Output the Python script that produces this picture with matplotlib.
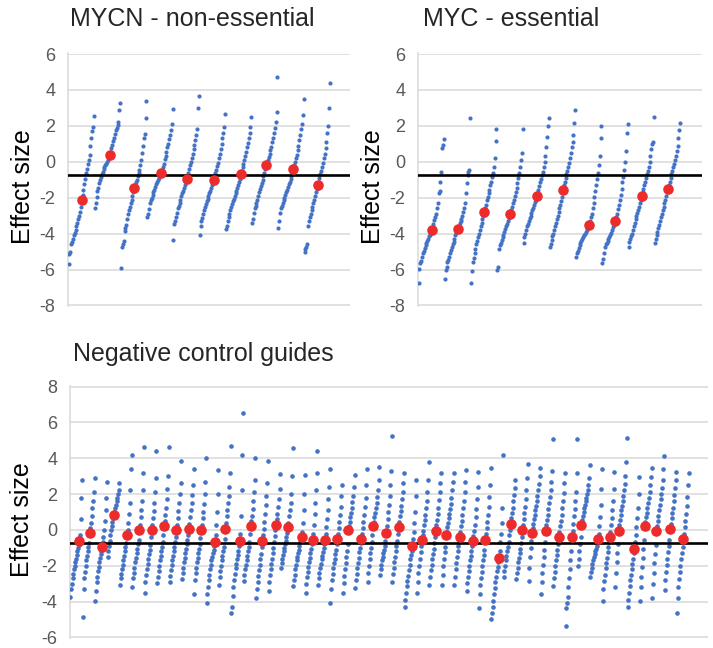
import numpy as np
import matplotlib.pyplot as plt

plt.rcParams['font.family'] = ['Liberation Sans', 'DejaVu Sans']
plt.rcParams['axes.unicode_minus'] = False

# effect size of every cell line, one list per guide (sorted inside each panel)
mycn_guides = [
    [-5.7, -5.15, -5.0, -4.55, -4.45, -4.3, -4.1, -3.95, -3.8, -3.6, -3.4, -3.2, -3.0, -2.8, -2.5,
     -2.15, -1.85, -1.55, -1.25, -0.95, -0.65, -0.4, -0.15, 0.1, 0.4, 0.9, 1.3, 1.7, 1.95, 2.55],
    [-2.6, -2.3, -1.95, -1.6, -1.45, -1.2, -1.0, -0.85, -0.7, -0.55, -0.42, -0.3, -0.2, -0.1, 0.0,
     0.1, 0.25, 0.39, 0.55, 0.75, 0.95, 1.15, 1.35, 1.55, 1.75, 1.9, 2.05, 2.2, 2.9, 3.25],
    [-5.9, -4.75, -4.6, -4.4, -3.85, -3.7, -3.5, -3.2, -2.9, -2.7, -2.5, -2.3, -2.1, -1.9, -1.7,
     -1.46, -1.3, -1.15, -1.0, -0.8, -0.6, -0.45, -0.2, 0.1, 0.5, 0.9, 1.3, 1.55, 2.45, 3.4],
    [-3.1, -2.9, -2.65, -2.3, -2.15, -2.0, -1.85, -1.7, -1.55, -1.4, -1.25, -1.1, -1.0, -0.9, -0.8,
     -0.7, -0.61, -0.5, -0.3, -0.1, 0.15, 0.35, 0.55, 0.8, 1.0, 1.25, 1.5, 1.75, 2.1, 2.95],
    [-4.35, -3.45, -3.3, -3.1, -2.85, -2.6, -2.45, -2.3, -2.1, -1.9, -1.75, -1.6, -1.45, -1.3, -1.1,
     -0.94, -0.8, -0.6, -0.4, -0.2, 0.0, 0.2, 0.45, 0.7, 0.95, 1.2, 1.5, 1.8, 3.0, 3.65],
    [-4.1, -3.55, -3.3, -3.15, -2.9, -2.7, -2.5, -2.35, -2.2, -2.05, -1.9, -1.75, -1.6, -1.45, -1.3,
     -1.15, -1.0, -0.85, -0.65, -0.45, -0.25, -0.05, 0.2, 0.45, 0.7, 1.0, 1.3, 1.6, 1.95, 2.65],
    [-3.75, -3.6, -3.3, -3.1, -2.9, -2.7, -2.5, -2.35, -2.2, -2.05, -1.9, -1.75, -1.6, -1.45, -1.3,
     -1.15, -0.95, -0.7, -0.5, -0.3, -0.1, 0.1, 0.3, 0.55, 0.8, 1.05, 1.3, 1.6, 1.95, 2.5],
    [-3.4, -3.2, -2.85, -2.6, -2.45, -2.3, -2.1, -1.9, -1.7, -1.5, -1.35, -1.2, -1.0, -0.8, -0.6,
     -0.4, -0.2, -0.05, 0.1, 0.25, 0.45, 0.65, 0.85, 1.1, 1.35, 1.6, 1.9, 2.2, 2.75, 4.7],
    [-3.7, -3.3, -2.85, -2.6, -2.45, -2.3, -2.15, -2.0, -1.85, -1.7, -1.55, -1.4, -1.25, -1.1, -0.95,
     -0.8, -0.6, -0.39, -0.2, 0.0, 0.2, 0.4, 0.65, 0.9, 1.2, 1.5, 1.8, 2.1, 2.6, 3.5],
    [-5.0, -4.85, -4.75, -4.6, -3.55, -3.3, -3.1, -2.9, -2.7, -2.5, -2.3, -2.1, -1.9, -1.7, -1.5,
     -1.31, -1.1, -0.9, -0.7, -0.5, -0.3, -0.05, 0.2, 0.45, 0.75, 1.1, 1.6, 2.0, 3.0, 4.4],
]
mycn_red = [-2.15, 0.39, -1.46, -0.61, -0.94, -1.0, -0.7, -0.2, -0.39, -1.31]

myc_guides = [
    [-6.75, -5.95, -5.65, -5.5, -5.3, -5.1, -4.95, -4.8, -4.65, -4.5, -4.4, -4.3, -4.15, -4.05, -3.95,
     -3.81, -3.65, -3.45, -3.25, -3.05, -2.9, -2.6, -2.3, -1.75, -1.6, -1.1, -0.55, 0.75, 0.95, 1.25],
    [-6.55, -6.05, -5.85, -5.6, -5.45, -5.3, -5.1, -4.9, -4.75, -4.6, -4.45, -4.3, -4.1, -3.95, -3.85,
     -3.72, -3.55, -3.4, -3.3, -3.2, -3.0, -2.8, -2.55, -2.3, -1.75, -1.2, -0.75, -0.55, -0.45, 2.42],
    [-6.75, -6.1, -5.6, -5.35, -5.1, -4.85, -4.6, -4.4, -4.2, -4.0, -3.8, -3.6, -3.4, -3.2, -3.0,
     -2.8, -2.6, -2.4, -2.15, -1.95, -1.75, -1.55, -1.3, -1.1, -0.85, -0.6, -0.3, 0.2, 1.15, 1.8],
    [-6.05, -5.85, -4.85, -4.65, -4.5, -4.35, -4.2, -4.05, -3.9, -3.75, -3.6, -3.45, -3.3, -3.15, -3.0,
     -2.88, -2.7, -2.5, -2.3, -2.1, -1.9, -1.7, -1.45, -1.2, -0.9, -0.6, -0.3, 0.1, 0.5, 1.85],
    [-4.5, -4.2, -4.0, -3.8, -3.6, -3.45, -3.3, -3.15, -3.0, -2.85, -2.7, -2.55, -2.4, -2.25, -2.1,
     -1.92, -1.75, -1.55, -1.35, -1.15, -0.95, -0.75, -0.55, -0.3, 0.0, 0.3, 0.8, 1.4, 2.0, 2.42],
    [-4.75, -4.55, -4.35, -4.15, -4.0, -3.8, -3.6, -3.4, -3.2, -3.0, -2.8, -2.6, -2.4, -2.2, -1.95,
     -1.56, -1.3, -1.1, -0.9, -0.7, -0.5, -0.3, -0.05, 0.2, 0.5, 0.85, 1.1, 1.5, 2.15, 2.88],
    [-5.3, -5.1, -4.95, -4.8, -4.65, -4.5, -4.4, -4.3, -4.2, -4.1, -4.0, -3.9, -3.8, -3.7, -3.6,
     -3.5, -3.3, -3.1, -2.9, -2.6, -2.3, -1.95, -1.6, -1.3, -0.95, -0.6, -0.2, 0.3, 1.3, 2.0],
    [-5.65, -5.4, -5.1, -4.75, -4.6, -4.5, -4.4, -4.3, -4.2, -4.1, -3.95, -3.8, -3.65, -3.5, -3.4,
     -3.3, -3.1, -2.9, -2.65, -2.4, -2.15, -1.85, -1.5, -1.15, -0.85, -0.45, 0.0, 0.6, 1.6, 2.1],
    [-4.75, -4.45, -4.3, -4.15, -4.0, -3.8, -3.6, -3.4, -3.2, -3.0, -2.85, -2.7, -2.5, -2.3, -2.1,
     -1.9, -1.7, -1.5, -1.3, -1.1, -0.9, -0.7, -0.5, -0.3, 0.0, 0.3, 0.7, 1.0, 1.1, 2.5],
    [-4.5, -4.3, -4.1, -3.9, -3.7, -3.5, -3.3, -3.1, -2.9, -2.7, -2.5, -2.3, -2.1, -1.9, -1.7,
     -1.5, -1.3, -1.1, -0.9, -0.7, -0.5, -0.3, -0.1, 0.1, 0.35, 0.6, 0.9, 1.3, 1.75, 2.15],
]
myc_red = [-3.81, -3.72, -2.8, -2.88, -1.92, -1.56, -3.5, -3.3, -1.9, -1.5]

control_guides = [
    [-3.75, -3.3, -3.0, -2.7, -2.45, -2.2, -2.0, -1.8, -1.6, -1.4, -1.2, -1.0, -0.85, -0.63, -0.3, 0.6, 1.8, 2.8],
    [-4.85, -3.3, -2.7, -2.35, -2.0, -1.7, -1.45, -1.2, -0.95, -0.75, -0.17, 0.1, 0.4, 0.8, 1.2, 1.6, 2.1, 2.9],
    [-3.95, -3.4, -2.9, -2.6, -2.3, -2.05, -1.8, -1.55, -1.35, -1.15, -0.94, -0.7, -0.4, 0.0, 0.5, 1.1, 1.8, 2.7],
    [-1.5, -1.2, -0.9, -0.6, -0.3, 0.0, 0.2, 0.45, 0.65, 0.85, 1.0, 1.2, 1.4, 1.6, 1.8, 2.0, 2.2, 2.6],
    [-3.05, -2.7, -2.45, -2.2, -1.95, -1.7, -1.45, -1.2, -0.95, -0.75, -0.31, 0.0, 0.4, 0.9, 1.5, 2.2, 3.4, 4.2],
    [-3.2, -2.7, -2.4, -2.1, -1.8, -1.55, -1.3, -1.05, -0.8, -0.55, -0.02, 0.3, 0.7, 1.1, 1.6, 2.2, 3.2, 4.6],
    [-3.5, -2.9, -2.5, -2.2, -1.9, -1.6, -1.35, -1.1, -0.85, -0.4, -0.02, 0.3, 0.65, 1.05, 1.5, 2.1, 2.9, 4.4],
    [-2.95, -2.6, -2.3, -2.0, -1.7, -1.45, -1.2, -0.95, -0.7, -0.3, 0.24, 0.5, 0.85, 1.25, 1.7, 2.3, 3.0, 4.6],
    [-2.9, -2.55, -2.25, -1.95, -1.7, -1.45, -1.2, -0.95, -0.7, -0.4, -0.02, 0.3, 0.65, 1.05, 1.5, 2.0, 2.6, 3.85],
    [-2.75, -2.4, -2.1, -1.8, -1.55, -1.3, -1.05, -0.8, -0.55, -0.3, 0.06, 0.35, 0.7, 1.1, 1.5, 1.95, 2.5, 3.4],
    [-3.6, -2.8, -2.4, -2.1, -1.8, -1.55, -1.3, -1.05, -0.8, -0.45, -0.02, 0.3, 0.65, 1.0, 1.45, 2.0, 2.7, 4.0],
    [-4.1, -3.6, -3.2, -2.8, -2.5, -2.2, -1.95, -1.7, -1.5, -1.3, -1.1, -0.9, -0.69, -0.3, 0.3, 1.0, 2.0, 3.35],
    [-3.05, -2.6, -2.3, -2.0, -1.7, -1.45, -1.2, -0.95, -0.5, 0.07, 0.4, 0.75, 1.1, 1.5, 1.9, 2.4, 3.2, 4.7],
    [-4.65, -4.3, -3.7, -3.2, -2.8, -2.45, -2.15, -1.9, -1.65, -1.4, -1.15, -0.9, -0.63, -0.2, 0.8, 2.2, 4.2, 6.55],
    [-2.85, -2.5, -2.2, -1.95, -1.7, -1.45, -1.2, -0.95, -0.65, -0.25, 0.24, 0.5, 0.8, 1.15, 1.6, 2.1, 2.8, 4.0],
    [-3.8, -3.3, -2.9, -2.55, -2.25, -1.95, -1.65, -1.35, -0.95, -0.63, -0.3, 0.05, 0.45, 0.9, 1.4, 1.9, 2.6, 3.85],
    [-3.4, -2.9, -2.5, -2.2, -1.9, -1.6, -1.3, -1.0, -0.7, -0.35, 0.0, 0.3, 0.6, 0.9, 1.3, 1.7, 2.3, 3.1],
    [-2.1, -1.85, -1.6, -1.4, -1.2, -1.0, -0.8, -0.6, -0.4, -0.15, 0.15, 0.4, 0.75, 1.1, 1.5, 2.0, 3.0, 4.55],
    [-3.15, -2.8, -2.5, -2.2, -1.95, -1.7, -1.5, -1.3, -1.1, -0.9, -0.7, -0.55, -0.41, -0.1, 0.4, 1.1, 2.0, 3.05],
    [-3.5, -3.0, -2.65, -2.35, -2.05, -1.8, -1.55, -1.3, -1.05, -0.8, -0.57, -0.2, 0.3, 0.9, 1.5, 2.2, 3.2, 4.4],
    [-3.05, -2.7, -2.4, -2.15, -1.9, -1.65, -1.45, -1.25, -1.0, -0.8, -0.57, -0.25, 0.15, 0.6, 1.1, 1.7, 2.4, 3.4],
    [-4.05, -3.3, -2.8, -2.45, -2.15, -1.85, -1.6, -1.35, -1.1, -0.8, -0.5, -0.2, 0.1, 0.45, 0.85, 1.3, 1.9, 2.5],
    [-3.5, -2.95, -2.55, -2.2, -1.85, -1.5, -1.15, -0.8, -0.02, 0.2, 0.45, 0.7, 0.95, 1.25, 1.55, 1.9, 2.4, 3.05],
    [-3.25, -2.8, -2.45, -2.15, -1.85, -1.55, -1.25, -1.0, -0.75, -0.5, -0.2, 0.1, 0.45, 0.85, 1.3, 1.8, 2.5, 3.4],
    [-2.9, -2.4, -2.0, -1.65, -1.3, -1.0, -0.7, -0.3, 0.2, 0.45, 0.7, 0.95, 1.2, 1.5, 1.85, 2.25, 2.8, 3.5],
    [-2.5, -2.2, -1.95, -1.7, -1.5, -1.3, -1.1, -0.9, -0.6, -0.17, 0.2, 0.6, 1.0, 1.4, 1.9, 2.5, 3.3, 5.25],
    [-2.9, -2.45, -2.1, -1.8, -1.5, -1.2, -0.9, -0.6, -0.25, 0.15, 0.45, 0.75, 1.05, 1.35, 1.7, 2.1, 2.6, 3.15],
    [-4.3, -3.9, -3.5, -3.15, -2.85, -2.55, -2.25, -1.95, -1.65, -1.4, -1.15, -0.87, -0.5, -0.1, 0.4, 1.0, 1.9, 2.8],
    [-3.5, -2.9, -2.4, -2.0, -1.6, -1.25, -0.9, -0.57, -0.3, -0.05, 0.25, 0.55, 0.85, 1.2, 1.6, 2.1, 2.8, 3.8],
    [-3.05, -2.6, -2.25, -1.95, -1.65, -1.35, -1.05, -0.75, -0.4, -0.07, 0.25, 0.55, 0.9, 1.25, 1.65, 2.1, 2.6, 3.2],
    [-3.05, -2.5, -2.0, -1.6, -1.25, -0.95, -0.31, -0.1, 0.15, 0.4, 0.65, 0.9, 1.15, 1.45, 1.8, 2.2, 2.7, 3.15],
    [-3.05, -2.6, -2.2, -1.85, -1.5, -1.2, -0.9, -0.65, -0.41, -0.1, 0.2, 0.5, 0.85, 1.2, 1.6, 2.1, 2.7, 3.35],
    [-3.4, -2.95, -2.6, -2.3, -2.0, -1.7, -1.45, -1.2, -0.9, -0.63, -0.35, -0.05, 0.3, 0.7, 1.15, 1.7, 2.4, 3.25],
    [-4.35, -3.6, -3.1, -2.7, -2.35, -2.0, -1.7, -1.4, -1.1, -0.57, -0.25, 0.1, 0.45, 0.85, 1.3, 1.85, 2.5, 3.45],
    [-4.95, -4.65, -4.3, -3.95, -3.6, -3.25, -2.9, -2.6, -2.3, -2.05, -1.8, -1.56, -1.2, -0.65, -0.2, 0.4, 1.2, 4.2],
    [-2.65, -2.3, -2.0, -1.7, -1.45, -1.2, -0.95, -0.65, -0.3, 0.0, 0.35, 0.65, 0.95, 1.25, 1.6, 1.95, 2.35, 2.8],
    [-2.75, -2.4, -2.1, -1.8, -1.55, -1.3, -1.05, -0.75, -0.4, -0.02, 0.3, 0.6, 0.95, 1.3, 1.7, 2.2, 2.9, 3.7],
    [-2.85, -2.1, -1.5, -1.0, -0.6, -0.17, 0.1, 0.35, 0.6, 0.85, 1.1, 1.35, 1.6, 1.9, 2.2, 2.55, 3.0, 3.45],
    [-3.55, -2.9, -2.4, -1.95, -1.5, -1.1, -0.7, -0.07, 0.25, 0.55, 0.85, 1.15, 1.5, 1.85, 2.25, 2.7, 3.3, 5.1],
    [-3.15, -2.7, -2.35, -2.0, -1.7, -1.4, -1.1, -0.8, -0.41, -0.1, 0.2, 0.5, 0.85, 1.2, 1.6, 2.05, 2.6, 3.2],
    [-5.35, -4.35, -4.05, -3.75, -3.2, -2.7, -2.2, -1.7, -1.2, -0.41, -0.05, 0.35, 0.75, 1.15, 1.6, 2.1, 3.2, 5.1],
    [-2.0, -1.6, -1.2, -0.8, -0.4, 0.3, 0.55, 0.8, 1.0, 1.2, 1.4, 1.6, 1.8, 2.0, 2.25, 2.5, 2.9, 3.65],
    [-2.65, -2.35, -2.1, -1.9, -1.7, -1.5, -1.35, -1.2, -1.05, -0.9, -0.75, -0.5, -0.2, 0.2, 0.7, 1.4, 2.3, 3.4],
    [-3.95, -3.3, -2.85, -2.5, -2.15, -1.85, -1.55, -1.25, -0.95, -0.7, -0.41, -0.1, 0.25, 0.65, 1.1, 1.6, 2.3, 3.25],
    [-3.2, -2.4, -1.8, -1.3, -0.8, -0.07, 0.25, 0.55, 0.85, 1.1, 1.35, 1.6, 1.9, 2.2, 2.55, 3.0, 3.8, 5.15],
    [-4.3, -3.9, -3.5, -3.15, -2.8, -2.5, -2.2, -1.9, -1.6, -1.3, -1.04, -0.7, -0.3, 0.15, 0.65, 1.2, 2.0, 2.95],
    [-3.95, -3.2, -2.6, -2.05, -1.55, -1.05, -0.55, 0.2, 0.45, 0.7, 0.95, 1.2, 1.5, 1.8, 2.1, 2.5, 2.95, 3.45],
    [-3.8, -3.0, -2.4, -1.85, -1.35, -0.85, -0.07, 0.2, 0.5, 0.8, 1.1, 1.4, 1.7, 2.0, 2.35, 2.8, 3.4, 4.1],
    [-3.35, -2.8, -2.35, -1.95, -1.6, -1.25, -0.9, -0.55, 0.07, 0.35, 0.65, 0.95, 1.25, 1.6, 1.95, 2.35, 2.8, 3.25],
    [-4.65, -3.8, -3.2, -2.75, -2.35, -2.0, -1.65, -1.3, -0.95, -0.5, -0.2, 0.15, 0.5, 0.9, 1.35, 1.85, 2.5, 3.2],
]
control_red = [-0.63, -0.17, -0.94, 0.85, -0.31, -0.02, -0.02, 0.24, -0.02, 0.06,
               -0.02, -0.69, 0.07, -0.63, 0.24, -0.63, 0.3, 0.15, -0.41, -0.57,
               -0.57, -0.5, -0.02, -0.5, 0.2, -0.17, 0.15, -0.87, -0.57, -0.07,
               -0.31, -0.41, -0.63, -0.57, -1.56, 0.35, -0.02, -0.17, -0.07, -0.41,
               -0.41, 0.3, -0.5, -0.41, -0.07, -1.04, 0.2, -0.07, 0.07, -0.5]

cutoff = -0.75

BLUE = '#4472C4'
RED = '#EE2B2B'
GRID = '#D9D9D9'
TICK = '#595959'


def draw_panel(ax, groups, red_values, per_group, xmax, ylim, dot=9):
    red_x = []
    for g, vals in enumerate(groups):
        vals = np.sort(np.asarray(vals, dtype=float))
        x = g * per_group + np.arange(1, len(vals) + 1)
        ax.scatter(x, vals, s=dot, color=BLUE, linewidths=0, zorder=3)
        red_x.append(g * per_group + np.searchsorted(vals, red_values[g]) + 1)
    ax.scatter(red_x, red_values, s=58, color=RED, linewidths=0, zorder=5)
    ax.axhline(cutoff, color='black', lw=1.9, zorder=4)

    ax.set_xlim(0.3, xmax)
    ax.set_ylim(ylim[0] - 0.03, ylim[1] + 0.03)
    ax.set_yticks(np.arange(ylim[0], ylim[1] + 1, 2))
    ax.set_xticks([])
    ax.grid(axis='y', color=GRID, lw=1.1, zorder=0)
    for side in ['top', 'right', 'bottom']:
        ax.spines[side].set_visible(False)
    ax.spines['left'].set_color(GRID)
    ax.spines['left'].set_linewidth(1.1)
    ax.tick_params(axis='y', length=0, labelsize=13, labelcolor=TICK, pad=9)


fig = plt.figure(figsize=(7.13, 6.48), dpi=100)
W, H = 713, 648

ax1 = fig.add_axes([68 / W, 1 - 306 / H, 282 / W, 252.5 / H])
ax2 = fig.add_axes([418 / W, 1 - 306 / H, 284 / W, 252.5 / H])
ax3 = fig.add_axes([70 / W, 1 - 638 / H, 638 / W, 252 / H])

draw_panel(ax1, mycn_guides, mycn_red, 30, 323, (-8, 6))
draw_panel(ax2, myc_guides, myc_red, 30, 325, (-8, 6))
draw_panel(ax3, control_guides, control_red, 18, 928, (-6, 8), dot=11)

title_kw = dict(fontsize=18, color='#262626', ha='left', va='center')
fig.text(70 / W, 1 - 19 / H, 'MYCN - non-essential', **title_kw)
fig.text(423 / W, 1 - 19 / H, 'MYC - essential', **title_kw)
fig.text(73 / W, 1 - 354 / H, 'Negative control guides', **title_kw)

label_kw = dict(fontsize=18, color='black', rotation=90, ha='center', va='center')
fig.text(23 / W, 1 - 187 / H, 'Effect size', **label_kw)
fig.text(373 / W, 1 - 187 / H, 'Effect size', **label_kw)
fig.text(22 / W, 1 - 520 / H, 'Effect size', **label_kw)

fig.savefig('out.png', dpi=100)
